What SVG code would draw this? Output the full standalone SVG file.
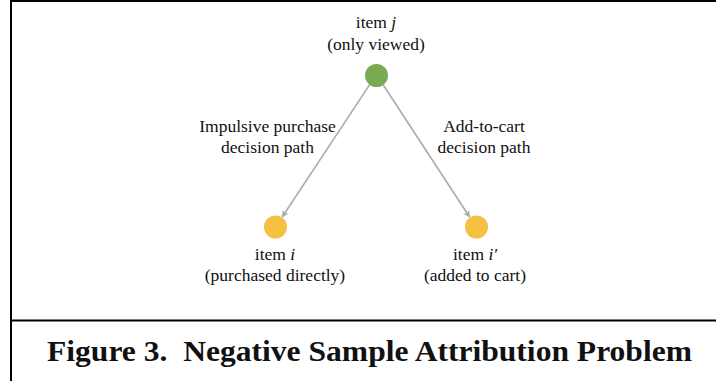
<svg xmlns="http://www.w3.org/2000/svg" width="716" height="381" viewBox="0 0 716 381">
  <style>
    .lbl { font-family: "Liberation Serif", "Times New Roman", serif; font-size: 17.5px; fill: #111; text-anchor: middle; }
    .cap { font-family: "Liberation Serif", "Times New Roman", serif; font-size: 30px; font-weight: bold; fill: #111; text-anchor: middle; white-space: pre; }
    .frame { stroke: #000; stroke-width: 2; fill: none; }
    .edge { stroke: #ababab; stroke-width: 1.6; fill: none; }
  </style>
  <defs>
    <marker id="arrow" viewBox="0 0 10 10" refX="9" refY="5" markerWidth="7" markerHeight="7" markerUnits="userSpaceOnUse" orient="auto">
      <path d="M0,0 L10,5 L0,10 L2.5,5 Z" fill="#ababab"/>
    </marker>
  </defs>

  <rect width="716" height="381" fill="#fff"/>

  <!-- frame -->
  <g id="frame">
    <line class="frame" x1="10" y1="1" x2="716" y2="1"/>
    <line class="frame" x1="11" y1="0" x2="11" y2="381"/>
    <line class="frame" x1="10" y1="320.5" x2="716" y2="320.5"/>
  </g>

  <!-- connectors -->
  <g id="connectors">
    <line class="edge" x1="369.7" y1="84.6" x2="282.2" y2="217" marker-end="url(#arrow)"/>
    <line class="edge" x1="383.1" y1="84.7" x2="469.6" y2="217" marker-end="url(#arrow)"/>
    <text class="lbl" x="267.5" y="132">Impulsive purchase</text>
    <text class="lbl" x="267.5" y="153">decision path</text>
    <text class="lbl" x="484" y="132">Add-to-cart</text>
    <text class="lbl" x="484" y="153">decision path</text>
  </g>

  <!-- nodes -->
  <g id="node-j">
    <circle cx="376.5" cy="75.5" r="11.5" fill="#79ab55"/>
    <text class="lbl" x="376" y="28">item <tspan font-style="italic">j</tspan></text>
    <text class="lbl" x="376" y="50">(only viewed)</text>
  </g>
  <g id="node-i">
    <circle cx="275.5" cy="227" r="11.5" fill="#f5c142"/>
    <text class="lbl" x="275" y="260">item <tspan font-style="italic">i</tspan></text>
    <text class="lbl" x="275" y="281">(purchased directly)</text>
  </g>
  <g id="node-i-prime">
    <circle cx="476.5" cy="227" r="11.5" fill="#f5c142"/>
    <text class="lbl" x="475" y="260">item <tspan font-style="italic">i′</tspan></text>
    <text class="lbl" x="475" y="281">(added to cart)</text>
  </g>

  <!-- caption -->
  <text class="cap" x="369.5" y="361" textLength="645" lengthAdjust="spacingAndGlyphs">Figure 3.  Negative Sample Attribution Problem</text>
</svg>
